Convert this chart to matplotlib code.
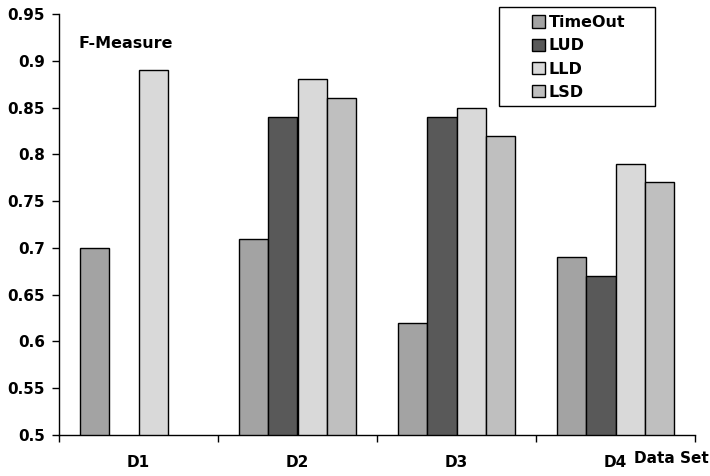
import numpy as np
import matplotlib.pyplot as plt
from matplotlib.patches import Rectangle

plt.rcParams['font.family'] = ['DejaVu Sans']
plt.rcParams['font.weight'] = 'bold'

categories = ['D1', 'D2', 'D3', 'D4']
series = ['TimeOut', 'LUD', 'LLD', 'LSD']
timeout = [0.70, 0.71, 0.62, 0.69]
lud = [np.nan, 0.84, 0.84, 0.67]
lld = [0.89, 0.88, 0.85, 0.79]
lsd = [np.nan, 0.86, 0.82, 0.77]
colors = ['#a3a3a3', '#595959', '#d9d9d9', '#bfbfbf']

W, H = 710, 476
fig = plt.figure(figsize=(W/100, H/100), dpi=100)
ax = fig.add_axes([59/W, 1-435/H, (695-59)/W, (435-14)/H])

x = np.arange(len(categories))
w = 0.73 / 4
for i, (name, vals) in enumerate(zip(series, [timeout, lud, lld, lsd])):
    ax.bar(x + (i - 1.5) * w, vals, w, bottom=0, color=colors[i],
           edgecolor='black', linewidth=1.0, label=name)

ax.set_ylim(0.5, 0.95)
ax.set_xlim(-0.5, 3.5)
ax.set_yticks(np.arange(0.5, 0.951, 0.05))
ax.set_yticklabels(['0.5', '0.55', '0.6', '0.65', '0.7', '0.75', '0.8',
                    '0.85', '0.9', '0.95'])
ax.set_xticks(np.arange(-0.5, 3.6, 1))
ax.set_xticklabels([])
ax.tick_params(axis='y', length=5, width=1, labelsize=11, pad=5)
ax.tick_params(axis='x', length=5, width=1)
for i, c in enumerate(categories):
    ax.text(i, -0.066, c, transform=ax.get_xaxis_transform(), ha='center',
            va='center', fontsize=11, fontweight='bold')
ax.text(1.022, -0.057, 'Data Set', transform=ax.transAxes, ha='right',
        va='center', fontsize=11, fontweight='bold')
ax.text(0.03, 0.93, 'F-Measure', transform=ax.transAxes, ha='left',
        va='center', fontsize=11.5, fontweight='bold')

for s in ['top', 'right']:
    ax.spines[s].set_visible(False)
for s in ['left', 'bottom']:
    ax.spines[s].set_linewidth(1)

# legend box drawn separately so the entries sit indented like the original
ax.add_patch(Rectangle((499/W, 1-106/H), (655-499)/W, 99/H,
                       transform=fig.transFigure, facecolor='white',
                       edgecolor='black', linewidth=1, zorder=4,
                       clip_on=False))
leg = ax.legend(loc='upper left', bbox_to_anchor=(532/W, 1-15/H),
                bbox_transform=fig.transFigure, frameon=False,
                prop={'size': 11.5, 'weight': 'bold'},
                handlelength=0.8, handleheight=0.8, handletextpad=0.25,
                labelspacing=0.52, borderpad=0, borderaxespad=0)
leg.set_zorder(5)

fig.savefig('out.png', dpi=100)
